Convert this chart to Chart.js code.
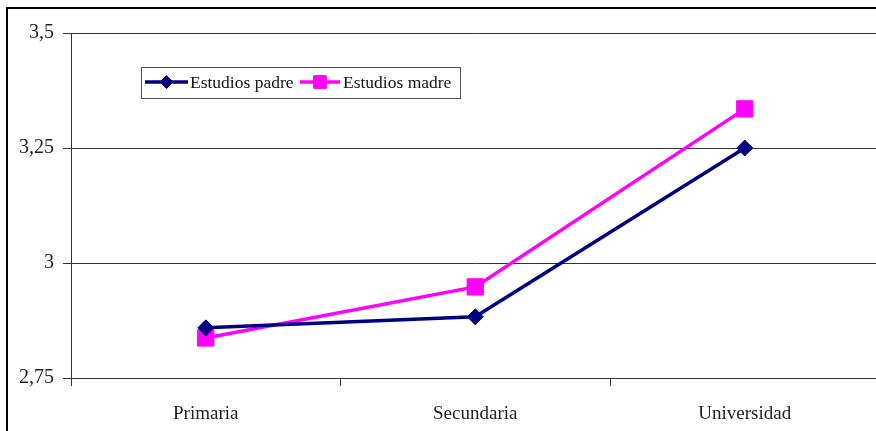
<!DOCTYPE html>
<html>
<head>
<meta charset="utf-8">
<script src="https://cdn.jsdelivr.net/npm/chart.js@4.4.1/dist/chart.umd.min.js"></script>
<style>
  html, body { margin: 0; padding: 0; background: #fff; overflow: hidden; width: 876px; height: 431px; }
  #wrap { position: absolute; left: 0; top: 0; width: 892px; height: 431px; }
  #frame { position: absolute; left: 6px; top: 7px; width: 900px; height: 440px;
           border-left: 2px solid #000; border-top: 2px solid #000; pointer-events: none; }
</style>
</head>
<body>
<div id="wrap"><canvas id="c" width="892" height="431"></canvas></div>
<div id="frame"></div>
<script>
// Education levels on the x axis
const categories = ['Primaria', 'Secundaria', 'Universidad'];
// Mean score by father's / mother's education level
const estudiosPadre = [2.859, 2.883, 3.25];
const estudiosMadre = [2.837, 2.948, 3.335];
const seriesNames = ['Estudios padre', 'Estudios madre'];
// Value axis ticks
const yTicks = [2.75, 3, 3.25, 3.5];

const SERIF = '"Liberation Serif", "Times New Roman", serif';

// Legend box drawn inside the plot area, upper left
const innerLegend = {
  id: 'innerLegend',
  afterDraw(chart) {
    const ctx = chart.ctx;
    const box = { x: 141.5, y: 67.5, w: 319, h: 31 };
    ctx.save();
    ctx.fillStyle = '#fff';
    ctx.fillRect(box.x, box.y, box.w, box.h);
    ctx.strokeStyle = '#555';
    ctx.lineWidth = 1;
    ctx.strokeRect(box.x, box.y, box.w, box.h);
    const cy = 82;
    const items = [{ x0: 145, x1: 188, tx: 190 }, { x0: 300, x1: 340, tx: 343 }];
    chart.data.datasets.forEach((ds, i) => {
      const it = items[i];
      ctx.strokeStyle = ds.borderColor;
      ctx.lineWidth = 3.5;
      ctx.beginPath();
      ctx.moveTo(it.x0, cy);
      ctx.lineTo(it.x1, cy);
      ctx.stroke();
      ctx.fillStyle = ds.pointBackgroundColor;
      ctx.strokeStyle = ds.borderColor;
      ctx.lineWidth = 1;
      Chart.helpers.drawPoint(ctx, {
        pointStyle: ds.pointStyle,
        radius: ds.pointStyle === 'rect' ? 9 : 6.5,
        rotation: 0,
        borderWidth: 1
      }, (it.x0 + it.x1) / 2, cy);
      ctx.fillStyle = '#111';
      ctx.font = '17.5px ' + SERIF;
      ctx.textBaseline = 'middle';
      ctx.textAlign = 'left';
      ctx.fillText(ds.label, it.tx, cy + 1);
    });
    ctx.restore();
  }
};

new Chart(document.getElementById('c'), {
  type: 'line',
  data: {
    labels: categories,
    datasets: [
      {
        label: seriesNames[0],
        data: estudiosPadre,
        borderColor: '#000080',
        backgroundColor: '#000080',
        pointBackgroundColor: '#000080',
        pointBorderColor: '#000080',
        pointStyle: 'rectRot',
        pointRadius: 8,
        pointBorderWidth: 1,
        borderWidth: 3.5,
        tension: 0
      },
      {
        label: seriesNames[1],
        data: estudiosMadre,
        borderColor: '#FF00FF',
        backgroundColor: '#FF00FF',
        pointBackgroundColor: '#FF00FF',
        pointBorderColor: '#FF00FF',
        pointStyle: 'rect',
        pointRadius: 11.5,
        pointBorderWidth: 1,
        borderWidth: 3.5,
        tension: 0
      }
    ]
  },
  options: {
    responsive: false,
    animation: false,
    layout: { padding: { top: 33, right: 4, left: 0, bottom: 0 } },
    plugins: {
      legend: { display: false },
      title: { display: false },
      tooltip: { enabled: false }
    },
    scales: {
      x: {
        offset: true,
        grid: {
          offset: true,
          drawOnChartArea: false,
          drawTicks: true,
          tickLength: 8,
          color: '#333',
          lineWidth: 1
        },
        border: { display: true, color: '#333', width: 1 },
        ticks: {
          color: '#222',
          font: { family: SERIF, size: 19 },
          padding: 17,
          maxRotation: 0
        },
        afterFit(scale) { scale.height = 53; }
      },
      y: {
        min: yTicks[0],
        max: yTicks[yTicks.length - 1],
        afterBuildTicks(scale) { scale.ticks = yTicks.map(v => ({ value: v })); },
        grid: {
          color: '#333',
          lineWidth: 1,
          drawTicks: true,
          tickLength: 8
        },
        border: { display: true, color: '#333', width: 1 },
        ticks: {
          color: '#222',
          font: { family: SERIF, size: 20 },
          padding: 9,
          callback: v => String(v).replace('.', ',')
        },
        afterFit(scale) { scale.width = 71; }
      }
    }
  },
  plugins: [innerLegend]
});
</script>
</body>
</html>
